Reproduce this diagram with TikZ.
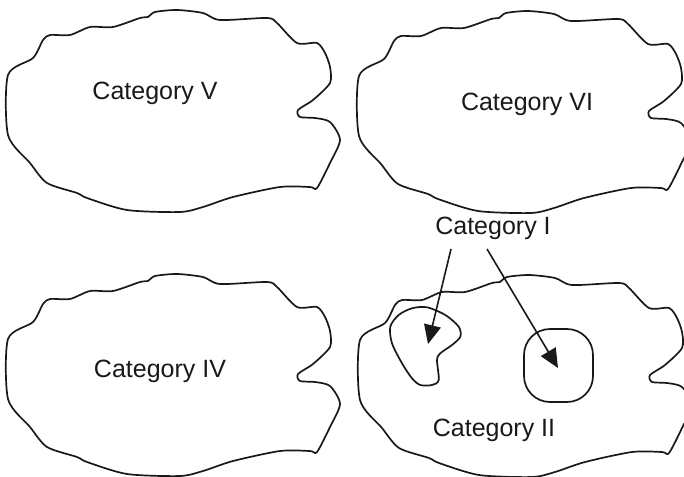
\documentclass[tikz,border=0pt]{standalone}
\usepackage{fontspec}
\setmainfont{Liberation Sans}
\usetikzlibrary{arrows.meta}
\tikzset{
  blobline/.style={draw=black!90, line width=1.7pt, line join=round},
  lab/.style={font=\fontsize{25}{30}\selectfont, text=black!90, inner sep=0pt},
  pointer/.style={draw=black!90, line width=1.6pt, -{Triangle[length=19pt,width=17pt]}},
  blob/.pic={\draw[blobline] plot[smooth cycle, tension=0.45] coordinates {
    (8,75) (33,58) (43,40) (50,35) (70,35) (90,27) (113,27) (140,18) (148,17)
    (155,12) (177,10) (203,13) (220,20) (267,18) (277,23) (297,43) (317,43)
    (325,53) (330,67) (330,83) (313,100) (298,110) (300,117) (315,118) (330,122)
    (340,140) (330,163) (317,188) (310,187) (280,187) (233,197) (203,207)
    (180,212) (127,210) (87,198) (77,193) (47,183) (30,163) (8,135)};}
}
\begin{document}
\begin{tikzpicture}[x=1pt,y=-1pt]
\useasboundingbox (0,0) rectangle (684,476);
\fill[white] (0,0) rectangle (684,476);
% outer regions
\pic at (0,0) {blob};
\pic at (351,1) {blob};
\pic at (0,264) {blob};
\pic at (352,265) {blob};
% labels
\node[lab] (c5) at (155,93) {Category V};
\node[lab] (c6) at (527,104) {Category VI};
\node[lab] (c4) at (160,371) {Category IV};
\node[lab] (c2) at (494,430) {Category II};
\node[lab] (c1) at (493,228) {Category I};
% inner regions of category I
\draw[blobline] plot[smooth cycle, tension=0.5] coordinates {
  (398.7,315) (412,308.3) (427,307.3) (445.3,315) (458.7,326.7) (460.3,336.7)
  (452,345) (440.3,353.3) (437,360) (438.7,380) (432,385) (420.3,385)
  (412,378.3) (402,363.3) (392,343.3) (390.3,326.7)};
\draw[blobline, rounded corners=26pt] (524,329) rectangle (593,402);
% arrows
\coordinate (s1) at (451,249);
\coordinate (t1) at (428,344);
\coordinate (s2) at (487,249);
\coordinate (t2) at (558,368);
\draw[pointer] (s1) -- (t1);
\draw[pointer] (s2) -- (t2);
\end{tikzpicture}
\end{document}
